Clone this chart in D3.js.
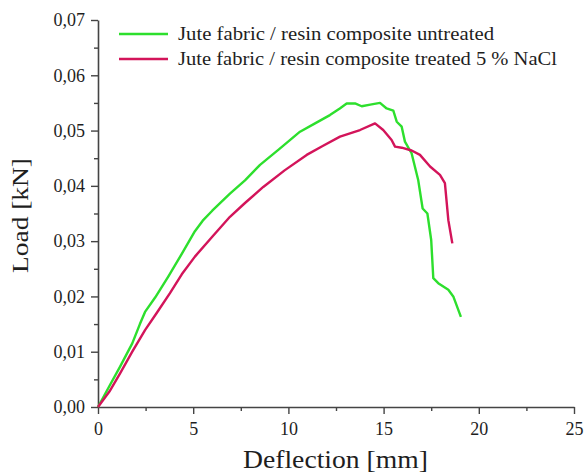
<!DOCTYPE html>
<html>
<head>
<meta charset="UTF-8">
<title>Load vs deflection</title>
<script src="https://d3js.org/d3.v7.min.js"></script>
<style>
  body { margin: 0; background: #fff; }
  svg text { font-family: "Liberation Serif", "Times New Roman", serif; fill: #1e1e1e; }
</style>
</head>
<body>
<div id="vis"></div>
<script>
// series names for legend
var seriesNames = ["Jute fabric / resin composite untreated",
                   "Jute fabric / resin composite treated 5 % NaCl"];
var seriesColors = ["#2ddf2d", "#d3145a"];

// untreated - deflection [mm], load [kN]
var untreatedX = [0, 0.6, 1.16, 1.8, 2.2, 2.47, 3.0, 3.69, 4.4, 5.09, 5.5, 6.0, 6.93, 7.72, 8.51, 9.5, 10.61, 11.4, 12.18, 12.7, 13.06, 13.5, 13.85, 14.3, 14.81, 15.16, 15.51, 15.69, 15.95, 16.12, 16.47, 16.82, 17.05, 17.3, 17.5, 17.61, 17.87, 18.4, 18.66, 19.06];
var untreatedY = [0, 0.0038, 0.0073, 0.0115, 0.0150, 0.0172, 0.0198, 0.0236, 0.0277, 0.0318, 0.0337, 0.0355, 0.0386, 0.0410, 0.0438, 0.0466, 0.0498, 0.0513, 0.0528, 0.0540, 0.0549, 0.0549, 0.0544, 0.0547, 0.0550, 0.0540, 0.0536, 0.0516, 0.0507, 0.0480, 0.0459, 0.0410, 0.0359, 0.0350, 0.0302, 0.0233, 0.0224, 0.0212, 0.0200, 0.0163];

// treated 5 % NaCl
var treatedX = [0, 0.6, 1.16, 1.8, 2.47, 3.1, 3.78, 4.4, 5.09, 6.0, 6.93, 7.72, 8.68, 9.8, 10.96, 11.8, 12.71, 13.76, 14.55, 14.98, 15.42, 15.6, 15.95, 16.47, 16.91, 17.44, 17.96, 18.22, 18.4, 18.61];
var treatedY = [0, 0.0028, 0.0061, 0.0100, 0.0139, 0.0171, 0.0206, 0.0240, 0.0272, 0.0308, 0.0344, 0.0369, 0.0398, 0.0428, 0.0456, 0.0472, 0.0489, 0.0501, 0.0513, 0.0501, 0.0483, 0.0471, 0.0469, 0.0464, 0.0456, 0.0435, 0.0420, 0.0405, 0.0338, 0.0296];

var xTicks = [0, 5, 10, 15, 20, 25];
var yTicks = [0, 0.01, 0.02, 0.03, 0.04, 0.05, 0.06, 0.07];

var width = 585, height = 475;
var margin = {top: 20, right: 11, bottom: 68, left: 98};

var svg = d3.select("#vis").append("svg")
	.attr("width", width)
	.attr("height", height);

var x = d3.scaleLinear().domain([0, 25]).range([margin.left, width - margin.right]);
var y = d3.scaleLinear().domain([0, 0.07]).range([height - margin.bottom, margin.top]);

var comma = function(d) { return d3.format(".2f")(d).replace(".", ","); };

// minor ticks
var xMinor = [2.5, 7.5, 12.5, 17.5, 22.5];
var yMinor = [0.005, 0.015, 0.025, 0.035, 0.045, 0.055, 0.065];

svg.append("g")
	.attr("transform", "translate(0," + y(0) + ")")
	.call(d3.axisBottom(x).tickValues(xTicks).tickSize(7).tickPadding(8).tickSizeOuter(0));
svg.append("g")
	.attr("transform", "translate(0," + y(0) + ")")
	.call(d3.axisBottom(x).tickValues(xMinor).tickSize(4).tickFormat("").tickSizeOuter(0))
	.select(".domain").remove();

svg.append("g")
	.attr("transform", "translate(" + x(0) + ",0)")
	.call(d3.axisLeft(y).tickValues(yTicks).tickFormat(comma).tickSize(7).tickPadding(6).tickSizeOuter(0));
svg.append("g")
	.attr("transform", "translate(" + x(0) + ",0)")
	.call(d3.axisLeft(y).tickValues(yMinor).tickSize(4).tickFormat("").tickSizeOuter(0))
	.select(".domain").remove();

svg.selectAll(".domain").attr("stroke", "#444").attr("stroke-width", 1.6);
svg.selectAll(".tick line").attr("stroke", "#444").attr("stroke-width", 1.4);
svg.selectAll(".tick text")
	.style("font-family", "'Liberation Serif', serif")
	.style("font-size", "18px")
	.attr("fill", "#1e1e1e");

// axis titles (source image is a little stretched horizontally)
svg.append("text")
	.attr("x", 243)
	.attr("y", 468)
	.attr("textLength", 185)
	.attr("lengthAdjust", "spacingAndGlyphs")
	.style("font-size", "25px")
	.text("Deflection [mm]");
svg.append("text")
	.attr("transform", "translate(28,273) rotate(-90)")
	.attr("textLength", 115)
	.attr("lengthAdjust", "spacingAndGlyphs")
	.style("font-size", "23px")
	.text("Load [kN]");

// lines
var line = d3.line()
	.x(function(d) { return x(d[0]); })
	.y(function(d) { return y(d[1]); });

var series = [
	d3.zip(untreatedX, untreatedY),
	d3.zip(treatedX, treatedY)
];

svg.selectAll("path.series")
	.data(series)
	.enter()
	.append("path")
	.attr("class", "series")
	.attr("fill", "none")
	.attr("stroke", function(d, i) { return seriesColors[i]; })
	.attr("stroke-width", 2.4)
	.attr("stroke-linejoin", "round")
	.attr("d", line);

// legend
var legendLen = [316, 379];
var legend = svg.selectAll("g.legend")
	.data(seriesNames)
	.enter()
	.append("g")
	.attr("transform", function(d, i) { return "translate(119," + (34 + i * 25) + ")"; });
legend.append("line")
	.attr("x1", 0).attr("x2", 49)
	.attr("stroke", function(d, i) { return seriesColors[i]; })
	.attr("stroke-width", 2.4);
legend.append("text")
	.attr("x", 59)
	.attr("dy", "0.33em")
	.attr("textLength", function(d, i) { return legendLen[i]; })
	.attr("lengthAdjust", "spacingAndGlyphs")
	.style("font-size", "18px")
	.text(function(d) { return d; });
</script>
</body>
</html>
